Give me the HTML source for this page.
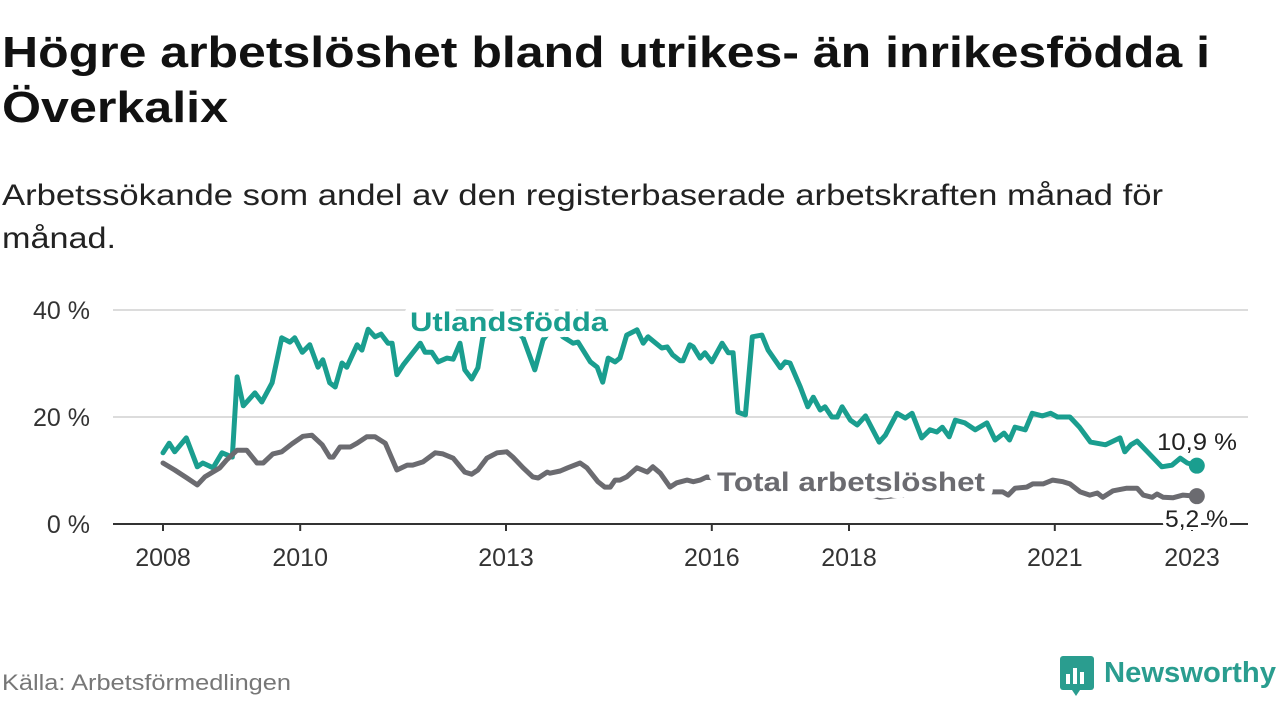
<!DOCTYPE html>
<html><head><meta charset="utf-8"><style>
html,body{margin:0;padding:0;background:#fff;width:1280px;height:720px;overflow:hidden}
svg{display:block;font-family:"Liberation Sans","DejaVu Sans",sans-serif}
</style></head><body>
<svg id="chart" width="1280" height="720" viewBox="0 0 1280 720">
<text x="2" y="67" font-size="44" font-weight="bold" fill="#111" textLength="1208" lengthAdjust="spacingAndGlyphs">Högre arbetslöshet bland utrikes- än inrikesfödda i</text>
<text x="2" y="122" font-size="44" font-weight="bold" fill="#111" textLength="226" lengthAdjust="spacingAndGlyphs">Överkalix</text>
<text x="2" y="205" font-size="30" fill="#222" textLength="1161" lengthAdjust="spacingAndGlyphs">Arbetssökande som andel av den registerbaserade arbetskraften månad för</text>
<text x="2" y="248" font-size="30" fill="#222" textLength="114" lengthAdjust="spacingAndGlyphs">månad.</text>
<g id="grid"></g>
<g id="yticks"></g>
<g id="xticks"></g>
<g id="series"></g>
<text x="2" y="690" font-size="22" fill="#777" textLength="289" lengthAdjust="spacingAndGlyphs">Källa: Arbetsförmedlingen</text>
<g>
<rect x="1060" y="656" width="34" height="34" rx="3" fill="#2a9d8f"/>
<rect x="1066" y="674" width="4" height="10" fill="#fff"/>
<rect x="1073" y="668" width="4" height="16" fill="#fff"/>
<rect x="1080" y="672" width="4" height="12" fill="#fff"/>
<polygon points="1072,690 1080,690 1076,696" fill="#2a9d8f"/>
<text x="1104" y="682" font-size="29" font-weight="bold" fill="#2a9d8f" textLength="172" lengthAdjust="spacingAndGlyphs">Newsworthy</text>
</g>
</svg>
<script>
const yTicks=[0,20,40];
const xTickYears=[2008,2010,2013,2016,2018,2021,2023];
const foreignYears=[2008.0,2008.09,2008.17,2008.34,2008.5,2008.58,2008.73,2008.86,2009.01,2009.08,2009.17,2009.34,2009.44,2009.59,2009.73,2009.85,2009.92,2010.03,2010.14,2010.26,2010.33,2010.43,2010.51,2010.61,2010.68,2010.83,2010.9,2010.99,2011.09,2011.18,2011.28,2011.34,2011.41,2011.5,2011.75,2011.82,2011.92,2012.01,2012.14,2012.23,2012.33,2012.4,2012.5,2012.59,2012.66,2012.77,2012.99,2013.13,2013.25,2013.42,2013.54,2013.69,2013.83,2013.98,2014.05,2014.23,2014.33,2014.41,2014.49,2014.59,2014.66,2014.76,2014.91,2015.0,2015.07,2015.27,2015.35,2015.43,2015.54,2015.58,2015.68,2015.73,2015.83,2015.9,2016.0,2016.15,2016.24,2016.31,2016.38,2016.49,2016.59,2016.73,2016.82,2017.0,2017.07,2017.14,2017.29,2017.4,2017.48,2017.58,2017.65,2017.75,2017.83,2017.9,2018.02,2018.12,2018.24,2018.44,2018.53,2018.7,2018.82,2018.92,2019.06,2019.18,2019.28,2019.36,2019.46,2019.55,2019.69,2019.84,2020.01,2020.13,2020.26,2020.34,2020.42,2020.57,2020.67,2020.82,2020.94,2021.04,2021.22,2021.36,2021.52,2021.74,2021.95,2022.02,2022.11,2022.2,2022.35,2022.56,2022.71,2022.83,2022.93,2023.07];
const foreignValues=[13.3,15.1,13.5,16.1,10.7,11.4,10.5,13.3,12.5,27.5,22.1,24.5,22.8,26.4,34.8,34.0,34.8,32.1,33.5,29.3,30.7,26.4,25.6,30.1,29.3,33.5,32.5,36.4,35.0,35.5,33.8,33.8,27.9,29.7,33.8,32.1,32.1,30.3,31.0,30.8,33.8,28.8,27.1,29.2,34.8,36.5,37,36.5,34.8,28.8,34.4,37,35.0,33.8,34.0,30.3,29.3,26.5,31.0,30.3,31.0,35.3,36.3,33.8,35.0,32.9,33.1,31.6,30.5,30.5,33.5,33.1,31.0,32.0,30.3,33.8,32.0,32.0,20.9,20.4,35.0,35.3,32.5,29.2,30.3,30.1,25.6,21.9,23.7,21.3,21.9,20.0,20.0,21.9,19.4,18.5,20.2,15.3,16.6,20.7,19.8,20.7,16.1,17.6,17.2,18.1,16.3,19.4,18.9,17.6,18.9,15.7,17.0,15.7,18.1,17.6,20.7,20.2,20.7,20.0,20.0,18.1,15.3,14.8,16.1,13.5,14.8,15.5,13.5,10.7,11.0,12.3,11.4,10.9];
const totalYears=[2008.0,2008.17,2008.35,2008.5,2008.61,2008.83,2008.93,2009.08,2009.22,2009.37,2009.46,2009.6,2009.73,2009.88,2010.04,2010.17,2010.32,2010.43,2010.48,2010.58,2010.73,2010.83,2010.97,2011.09,2011.24,2011.41,2011.56,2011.64,2011.79,2011.97,2012.08,2012.23,2012.4,2012.5,2012.59,2012.72,2012.87,2013.01,2013.1,2013.25,2013.39,2013.47,2013.6,2013.64,2013.79,2013.9,2014.08,2014.18,2014.34,2014.44,2014.52,2014.59,2014.66,2014.76,2014.91,2015.06,2015.14,2015.25,2015.39,2015.49,2015.64,2015.73,2015.83,2015.93,2016.56,2017.29,2018.02,2018.45,2019.04,2019.62,2020.08,2020.24,2020.32,2020.42,2020.59,2020.68,2020.83,2020.97,2021.12,2021.22,2021.37,2021.51,2021.62,2021.7,2021.85,2022.05,2022.2,2022.29,2022.42,2022.49,2022.58,2022.72,2022.87,2023.07];
const totalValues=[11.4,10.1,8.6,7.3,8.8,10.5,12.0,13.8,13.8,11.4,11.4,13.1,13.5,15.0,16.4,16.6,14.8,12.5,12.5,14.4,14.4,15.1,16.3,16.3,15.1,10.1,11.0,11.0,11.6,13.3,13.1,12.3,9.7,9.3,10.1,12.3,13.3,13.5,12.5,10.5,8.8,8.6,9.7,9.5,9.9,10.5,11.4,10.5,7.9,6.9,6.9,8.2,8.2,8.8,10.5,9.7,10.7,9.5,6.9,7.7,8.2,7.9,8.2,8.8,7.3,6.7,6.4,5.0,5.8,6.0,6.0,6.0,5.4,6.7,6.9,7.5,7.5,8.2,7.9,7.5,6.0,5.4,5.8,5.0,6.2,6.7,6.7,5.4,5.0,5.6,5.0,4.9,5.4,5.2];
const yTickLabels=["0 %","20 %","40 %"];
const endLabels=["10,9 %","5,2 %"];

const NS="http://www.w3.org/2000/svg";
const X0=113,X1=1248;
const xs=y=>163+(y-2008)*68.6;
const ys=v=>524-v*5.35;
const TEAL="#1a9e8f",GRAY="#6b6b70";
function mk(tag,attrs,parent,txt){const e=document.createElementNS(NS,tag);for(const k in attrs)e.setAttribute(k,attrs[k]);if(txt!=null)e.textContent=txt;parent.appendChild(e);return e;}
const grid=document.getElementById('grid'),yt=document.getElementById('yticks'),xt=document.getElementById('xticks'),ser=document.getElementById('series');
yTicks.forEach((t,i)=>{
  if(t>0){const g=mk('line',{x1:X0,x2:X1,y1:ys(t),y2:ys(t),stroke:'#dcdcdc','stroke-width':2},grid);
  
  }
  const l=mk('text',{x:90,y:ys(t)+9,'text-anchor':'end','font-size':25,fill:'#333'},yt,yTickLabels[i]);
  
  
});
xTickYears.forEach(y=>{
  const t=mk('line',{x1:xs(y),x2:xs(y),y1:524,y2:531,stroke:'#333','stroke-width':2},xt);
  
  
  const l=mk('text',{x:xs(y),y:566,'text-anchor':'middle','font-size':25,fill:'#333'},xt,String(y));
  
  
});
function line(yrs,vals,color,name){
  const d=yrs.map((y,i)=>(i?'L':'M')+xs(y).toFixed(1)+','+ys(vals[i]).toFixed(1)).join(' ');
  const p=mk('path',{d:d,fill:'none',stroke:color,'stroke-width':5,'stroke-linejoin':'round','stroke-linecap':'round'},ser);
  
  
  const n=yrs.length-1;
  const c=mk('circle',{cx:xs(yrs[n]),cy:ys(vals[n]),r:8,fill:color},ser);
  
  
}
line(foreignYears,foreignValues,TEAL,'foreign-born-line');
line(totalYears,totalValues,GRAY,'total-line');
const fl=mk('text',{x:410,y:331,'font-size':27,'font-weight':'bold',fill:TEAL,stroke:'#fff','stroke-width':12,'paint-order':'stroke','stroke-linejoin':'round',textLength:198,lengthAdjust:'spacingAndGlyphs'},ser,'Utlandsfödda');


const tl=mk('text',{x:717,y:491,'font-size':27,'font-weight':'bold',fill:GRAY,stroke:'#fff','stroke-width':14,'paint-order':'stroke','stroke-linejoin':'round',textLength:268,lengthAdjust:'spacingAndGlyphs'},ser,'Total arbetslöshet');


const e1=mk('text',{x:1157,y:450,'font-size':24,fill:'#222',stroke:'#fff','stroke-width':6,'paint-order':'stroke',textLength:80,lengthAdjust:'spacingAndGlyphs'},ser,endLabels[0]);


const e2=mk('text',{x:1165,y:527,'font-size':24,fill:'#222',stroke:'#fff','stroke-width':6,'paint-order':'stroke',textLength:63,lengthAdjust:'spacingAndGlyphs'},ser,endLabels[1]);


const ax=mk('line',{x1:X0,x2:X1,y1:524,y2:524,stroke:'#333','stroke-width':2},xt);


</script>
</body></html>
